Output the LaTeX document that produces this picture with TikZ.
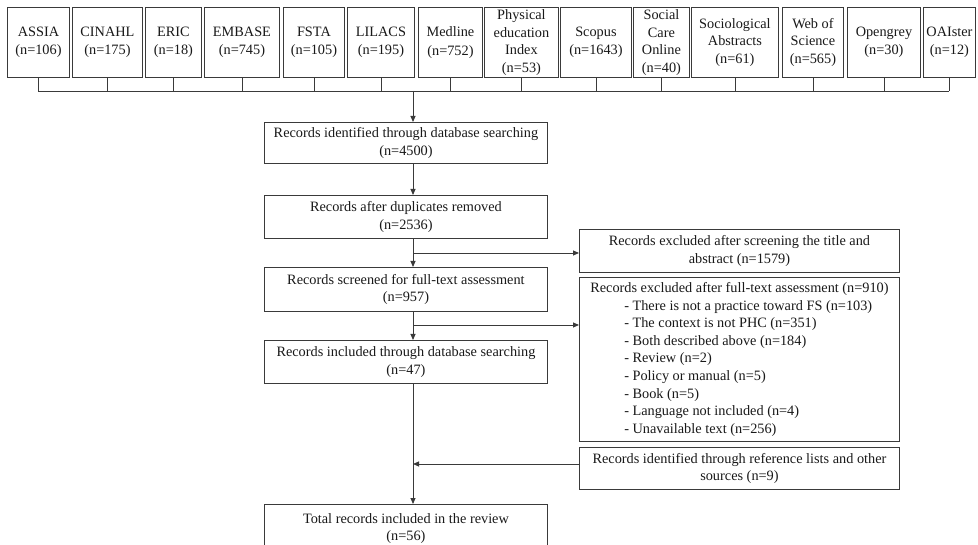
\documentclass[tikz,border=0pt]{standalone}
\usepackage{fontspec}
\setmainfont{Liberation Serif}
\usetikzlibrary{arrows.meta}
\definecolor{linec}{HTML}{3A3A3A}
\begin{document}
\begin{tikzpicture}[x=1pt,y=-1pt,
  box/.style={draw=linec, line width=0.9pt, inner sep=1pt, align=center, anchor=north west,
    font=\fontsize{14.3}{17.6}\selectfont, text=black!90},
  conn/.style={draw=linec, line width=0.9pt},
  arr/.style={conn, -{Triangle[length=6pt,width=5pt]}}]
\clip (0,0) rectangle (978,545);
\fill[white] (0,0) rectangle (978,545);
% database boxes
\node[box, minimum width=62pt, minimum height=70pt] (assia) at (7,7) {ASSIA\\[1pt](n=106)};
\node[box, minimum width=70pt, minimum height=70pt] (cinahl) at (72,7) {CINAHL\\[1pt](n=175)};
\node[box, minimum width=56pt, minimum height=70pt] (eric) at (145,7) {ERIC\\[1pt](n=18)};
\node[box, minimum width=75pt, minimum height=70pt] (embase) at (204,7) {EMBASE\\[1pt](n=745)};
\node[box, minimum width=61pt, minimum height=70pt] (fsta) at (283,7) {FSTA\\[1pt](n=105)};
\node[box, minimum width=67pt, minimum height=70pt] (lilacs) at (347,7) {LILACS\\[1pt](n=195)};
\node[box, minimum width=64pt, minimum height=70pt] (medline) at (418,7) {Medline\\[1pt](n=752)};
\node[box, minimum width=74pt, minimum height=70pt] (phys) at (484,7) {Physical\\education\\Index\\(n=53)};
\node[box, minimum width=71pt, minimum height=70pt] (scopus) at (560,7) {Scopus\\[1pt](n=1643)};
\node[box, minimum width=56pt, minimum height=70pt] (social) at (633,7) {Social\\Care\\Online\\(n=40)};
\node[box, minimum width=87pt, minimum height=70pt] (socio) at (691,7) {Sociological\\Abstracts\\(n=61)};
\node[box, minimum width=61pt, minimum height=70pt] (wos) at (782,7) {Web of\\Science\\(n=565)};
\node[box, minimum width=73pt, minimum height=70pt] (opengrey) at (847,7) {Opengrey\\[1pt](n=30)};
\node[box, minimum width=52pt, minimum height=70pt] (oaister) at (923,7) {OAIster\\[1pt](n=12)};
% main column
\node[box, minimum width=283pt, minimum height=41pt] (rid) at (264,122) {Records identified through database searching\\(n=4500)};
\node[box, minimum width=283pt, minimum height=43pt] (dup) at (264,195) {Records after duplicates removed\\(n=2536)};
\node[box, minimum width=283pt, minimum height=44pt] (scr) at (264,267) {Records screened for full-text assessment\\(n=957)};
\node[box, minimum width=283pt, minimum height=43pt] (inc) at (264,340) {Records included through database searching\\(n=47)};
\node[box, minimum width=283pt, minimum height=48pt] (tot) at (264,504) {Total records included in the review\\(n=56)};
% right column
\node[box, minimum width=320pt, minimum height=43pt] (ex1) at (579,229) {Records excluded after screening the title and\\abstract (n=1579)};
\node[box, minimum width=320pt, minimum height=164pt, align=left] (ex2) at (579,277) {Records excluded after full-text assessment (n=910)\\
\hspace*{34pt}- There is not a practice toward FS (n=103)\\
\hspace*{34pt}- The context is not PHC (n=351)\\
\hspace*{34pt}- Both described above (n=184)\\
\hspace*{34pt}- Review (n=2)\\
\hspace*{34pt}- Policy or manual (n=5)\\
\hspace*{34pt}- Book (n=5)\\
\hspace*{34pt}- Language not included (n=4)\\
\hspace*{34pt}- Unavailable text (n=256)};
\node[box, minimum width=320pt, minimum height=42pt] (ref) at (579,447) {Records identified through reference lists and other\\sources (n=9)};
% bus
\coordinate (bus) at (413,91);
\foreach \n in {assia,cinahl,eric,embase,fsta,lilacs,medline,phys,scopus,social,socio,wos,opengrey,oaister}
  \draw[conn] (\n.south) -- (\n.south |- bus);
\draw[conn] (assia.south |- bus) -- (oaister.south |- bus);
\draw[arr] (bus) -- (bus |- rid.north);
% main flow
\coordinate (b1) at (413,253);
\coordinate (b2) at (413,325);
\coordinate (b3) at (413,464);
\draw[arr] (bus |- rid.south) -- (bus |- dup.north);
\draw[arr] (bus |- dup.south) -- (bus |- scr.north);
\draw[arr] (b1) -- (b1 -| ex1.west);
\draw[arr] (bus |- scr.south) -- (bus |- inc.north);
\draw[arr] (b2) -- (b2 -| ex2.west);
\draw[arr] (bus |- inc.south) -- (bus |- tot.north);
\draw[arr] (b3 -| ref.west) -- (b3);
\end{tikzpicture}
\end{document}
